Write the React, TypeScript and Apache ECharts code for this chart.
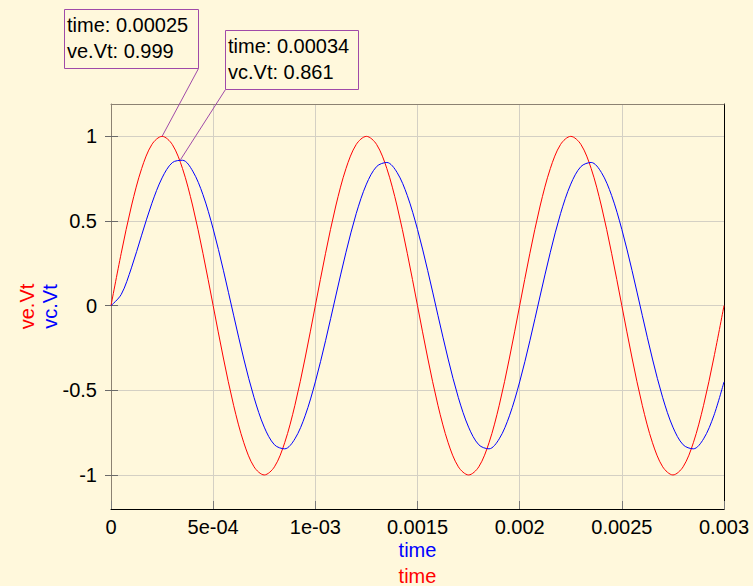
import React, { useEffect, useRef } from 'react';
import * as echarts from 'echarts';

const TIME = [
  0, 0.00005, 0.0001, 0.00015, 0.0002, 0.00025, 0.0003, 0.00035, 0.0004, 0.00045,
  0.0005, 0.00055, 0.0006, 0.00065, 0.0007, 0.00075, 0.0008, 0.00085, 0.0009, 0.00095,
  0.001, 0.00105, 0.0011, 0.00115, 0.0012, 0.00125, 0.0013, 0.00135, 0.0014, 0.00145,
  0.0015, 0.00155, 0.0016, 0.00165, 0.0017, 0.00175, 0.0018, 0.00185, 0.0019, 0.00195,
  0.002, 0.00205, 0.0021, 0.00215, 0.0022, 0.00225, 0.0023, 0.00235, 0.0024, 0.00245,
  0.0025, 0.00255, 0.0026, 0.00265, 0.0027, 0.00275, 0.0028, 0.00285, 0.0029, 0.00295,
  0.003,
];

const VE_VT = [
  0, 0.309, 0.588, 0.809, 0.951, 0.999, 0.951, 0.809, 0.588, 0.309,
  0, -0.309, -0.588, -0.809, -0.951, -0.999, -0.951, -0.809, -0.588, -0.309,
  0, 0.309, 0.588, 0.809, 0.951, 0.999, 0.951, 0.809, 0.588, 0.309,
  0, -0.309, -0.588, -0.809, -0.951, -0.999, -0.951, -0.809, -0.588, -0.309,
  0, 0.309, 0.588, 0.809, 0.951, 0.999, 0.951, 0.809, 0.588, 0.309,
  0, -0.309, -0.588, -0.809, -0.951, -0.999, -0.951, -0.809, -0.588, -0.309,
  0,
];

const VC_VT = [
  0, 0.066, 0.223, 0.416, 0.604, 0.754, 0.844, 0.858, 0.794, 0.655,
  0.453, 0.209, -0.056, -0.315, -0.542, -0.717, -0.821, -0.845, -0.786, -0.650,
  -0.450, -0.207, 0.057, 0.315, 0.543, 0.717, 0.821, 0.845, 0.786, 0.650,
  0.450, 0.207, -0.057, -0.315, -0.543, -0.717, -0.821, -0.845, -0.786, -0.650,
  -0.450, -0.207, 0.057, 0.315, 0.543, 0.717, 0.821, 0.845, 0.786, 0.650,
  0.450, 0.207, -0.057, -0.315, -0.543, -0.717, -0.821, -0.845, -0.786, -0.650,
  -0.450,
];

const X_TICK_LABELS = ['0', '5e-04', '1e-03', '0.0015', '0.002', '0.0025', '0.003'];
const Y_TICK_VALUES = [-1, -0.5, 0, 0.5, 1];

const MARKER_TIMES = [0.00025, 0.00034];
const MARKER_VALUES = [0.999, 0.861];
const MARKER_NAMES = ['ve.Vt', 'vc.Vt'];
const MARKER_TIME_TEXT = ['0.00025', '0.00034'];

const FONT = '"Liberation Sans", Arial, sans-serif';
const BG = '#FFF8DC';
const BOX_COLOR = '#A04AA8';
const GRID_COLOR = '#D4D0C4';

export default function App() {
  const ref = useRef<HTMLDivElement>(null);

  useEffect(() => {
    if (!ref.current) return;
    const chart = echarts.init(ref.current, undefined, { renderer: 'svg' });

    const yMin = -1.2;
    const yMax = 1.19;

    chart.setOption({
      animation: false,
      backgroundColor: BG,
      grid: {
        left: 111,
        right: 29,
        top: 104,
        bottom: 77,
        containLabel: false,
        outerBoundsMode: 'none',
      },
      xAxis: [
        {
          type: 'value',
          position: 'bottom',
          min: 0,
          max: 0.003,
          interval: 0.0005,
          axisLine: { show: true, onZero: false, lineStyle: { color: '#000000', width: 1 } },
          axisTick: { show: true, inside: true, length: 8, lineStyle: { color: '#7a7a7a' } },
          axisLabel: {
            margin: 8,
            color: '#000000',
            fontSize: 20,
            fontFamily: FONT,
            formatter: (v: number) => X_TICK_LABELS[Math.round(v / 0.0005)] ?? '',
          },
          splitLine: { show: true, lineStyle: { color: GRID_COLOR, width: 1 } },
          name: '{b|time}\n{r|time}',
          nameLocation: 'middle',
          nameGap: 28,
          nameMoveOverlap: false,
          nameTextStyle: {
            fontSize: 20,
            fontFamily: FONT,
            rich: {
              b: { color: '#0000FF', fontSize: 20, lineHeight: 26, fontFamily: FONT },
              r: { color: '#FF0000', fontSize: 20, lineHeight: 26, fontFamily: FONT },
            },
          },
        },
        {
          type: 'value',
          position: 'top',
          min: 0,
          max: 0.003,
          interval: 0.0005,
          axisLine: { show: true, onZero: false, lineStyle: { color: '#8C8272', width: 1 } },
          axisTick: { show: false },
          axisLabel: { show: false },
          splitLine: { show: false },
        },
      ],
      yAxis: [
        {
          type: 'value',
          position: 'left',
          min: yMin,
          max: yMax,
          splitNumber: 5,
          axisLine: { show: true, onZero: false, lineStyle: { color: '#8C8272', width: 1 } },
          axisTick: {
            show: true,
            inside: false,
            length: 6,
            customValues: Y_TICK_VALUES,
            lineStyle: { color: '#6a6a6a' },
          },
          axisLabel: {
            margin: 14,
            color: '#000000',
            fontSize: 20,
            fontFamily: FONT,
            customValues: Y_TICK_VALUES,
            formatter: (v: number) => String(v),
          },
          splitLine: { show: true, lineStyle: { color: GRID_COLOR, width: 1 } },
          name: '{r|ve.Vt}\n{b|vc.Vt}',
          nameLocation: 'middle',
          nameGap: 50,
          nameMoveOverlap: false,
          nameTextStyle: {
            fontSize: 20,
            fontFamily: FONT,
            rich: {
              r: { color: '#FF0000', fontSize: 20, lineHeight: 23, fontFamily: FONT },
              b: { color: '#0000FF', fontSize: 20, lineHeight: 23, fontFamily: FONT },
            },
          },
        },
        {
          type: 'value',
          position: 'left',
          min: yMin,
          max: yMax,
          splitNumber: 5,
          axisLine: { show: false },
          axisTick: {
            show: true,
            inside: true,
            length: 7,
            customValues: Y_TICK_VALUES,
            lineStyle: { color: '#6a6a6a' },
          },
          axisLabel: { show: false },
          splitLine: { show: false },
        },
        {
          type: 'value',
          position: 'right',
          min: yMin,
          max: yMax,
          axisLine: { show: true, onZero: false, lineStyle: { color: '#000000', width: 1 } },
          axisTick: { show: false },
          axisLabel: { show: false },
          splitLine: { show: false },
        },
      ],
      series: [
        {
          name: 've.Vt',
          type: 'line',
          xAxisIndex: 0,
          yAxisIndex: 0,
          data: TIME.map((t, i) => [t, VE_VT[i]]),
          showSymbol: false,
          smooth: 0.33,
          lineStyle: { color: '#FF0000', width: 1 },
          itemStyle: { color: '#FF0000' },
        },
        {
          name: 'vc.Vt',
          type: 'line',
          xAxisIndex: 0,
          yAxisIndex: 0,
          data: TIME.map((t, i) => [t, VC_VT[i]]),
          showSymbol: false,
          smooth: 0.33,
          lineStyle: { color: '#0000FF', width: 1 },
          itemStyle: { color: '#0000FF' },
        },
      ],
    });

    const boxes = [
      { x: 64.5, y: 9.5, w: 134, h: 59, anchorX: 198.5, anchorY: 68.5 },
      { x: 225.5, y: 30.5, w: 133, h: 59, anchorX: 225.5, anchorY: 89.5 },
    ];

    const graphics: any[] = [];
    boxes.forEach((b, i) => {
      const p = chart.convertToPixel({ xAxisIndex: 0, yAxisIndex: 0 }, [
        MARKER_TIMES[i],
        MARKER_VALUES[i],
      ]) as number[];
      graphics.push({
        type: 'line',
        z: 50,
        shape: { x1: b.anchorX, y1: b.anchorY, x2: p[0], y2: p[1] },
        style: { stroke: BOX_COLOR, lineWidth: 1 },
        silent: true,
      });
    });
    boxes.forEach((b, i) => {
      graphics.push({
        type: 'rect',
        z: 60,
        shape: { x: b.x, y: b.y, width: b.w, height: b.h },
        style: { fill: BG, stroke: BOX_COLOR, lineWidth: 1 },
        silent: true,
      });
      graphics.push({
        type: 'text',
        z: 61,
        x: b.x + 2.5,
        y: b.y + 15,
        style: {
          text: 'time: ' + MARKER_TIME_TEXT[i],
          fill: '#000000',
          fontSize: 20,
          fontFamily: FONT,
          verticalAlign: 'middle',
          align: 'left',
        },
        silent: true,
      });
      graphics.push({
        type: 'text',
        z: 61,
        x: b.x + 2.5,
        y: b.y + 41,
        style: {
          text: MARKER_NAMES[i] + ': ' + MARKER_VALUES[i],
          fill: '#000000',
          fontSize: 20,
          fontFamily: FONT,
          verticalAlign: 'middle',
          align: 'left',
        },
        silent: true,
      });
    });

    chart.setOption({ graphic: graphics });

    return () => {
      chart.dispose();
    };
  }, []);

  return (
    <div
      ref={ref}
      style={{ position: 'absolute', left: 0, top: 0, width: 753, height: 586 }}
    />
  );
}
